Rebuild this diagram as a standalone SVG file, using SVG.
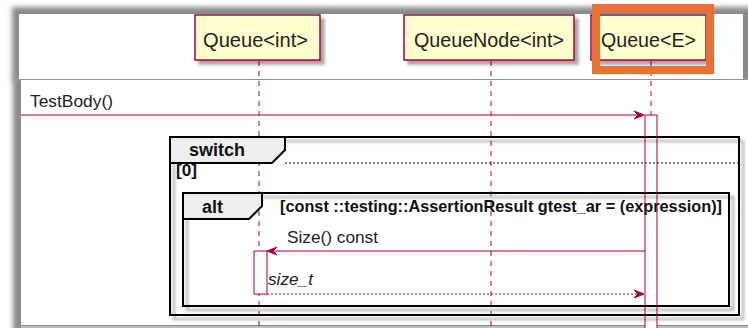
<svg xmlns="http://www.w3.org/2000/svg" width="748" height="328" viewBox="0 0 748 328">
<defs>
  <filter id="blur" x="-5%" y="-20%" width="110%" height="140%"><feGaussianBlur stdDeviation="2.5"/></filter>
  <filter id="sh" x="-10%" y="-10%" width="130%" height="130%"><feDropShadow dx="4" dy="4" stdDeviation="1.8" flood-color="#000" flood-opacity="0.35"/></filter>
  <style>
    .pbox{fill:#FEFECE;stroke:#A80036;stroke-width:1.5}
    .ptxt{font-family:"Liberation Sans",Arial,sans-serif;font-size:19.5px;fill:#222}
    .life{stroke:#A80036;stroke-width:1;stroke-dasharray:5,5;fill:none}
    .act{fill:#fff;stroke:none}
    .acto{fill:none;stroke:#A80036;stroke-width:1}
    .msg{stroke:#A80036;stroke-width:1;fill:none}
    .ret{stroke:#A80036;stroke-width:1;fill:none;stroke-dasharray:2,2}
    .head{fill:#A80036;stroke:#A80036;stroke-width:1}
    .mtxt{font-family:"Liberation Sans",Arial,sans-serif;font-size:17px;fill:#222}
    .frame{fill:none;stroke:#000;stroke-width:2}
    .tab{fill:#EEEEEE;stroke:#000;stroke-width:2}
    .btxt{font-family:"Liberation Sans",Arial,sans-serif;font-weight:bold;fill:#111}
    .sep{stroke:#000;stroke-width:1;stroke-dasharray:2,2}
  </style>
</defs>
<rect width="748" height="328" fill="#fff"/>
<!-- screenshot window shadows -->
<rect x="13" y="78" width="745" height="255" fill="#8a8a8a" filter="url(#blur)"/>
<rect x="12" y="7" width="745" height="74" fill="#8a8a8a" filter="url(#blur)"/>
<rect x="19" y="14" width="724" height="65" fill="#fff"/>
<rect x="21" y="80" width="727" height="245" fill="#fff"/>
<rect x="21" y="326" width="727" height="2" fill="#bdbdbd"/>

<g id="lifelines">
  <line class="life" x1="259" y1="61" x2="259" y2="328"/>
  <line class="life" x1="491" y1="61" x2="491" y2="328"/>
  <line class="life" x1="651" y1="61" x2="651" y2="328"/>
</g>
<g id="activations-fill">
  <rect class="act" x="645" y="115" width="12" height="220"/>
  <rect class="act" x="254" y="251" width="13" height="43"/>
</g>

<g id="switch">
  <rect class="frame" x="170" y="137" width="569" height="178" filter="url(#sh)"/>
  <polygon class="tab" points="170,137 285,137 285,150 272,163 170,163"/>
  <line class="sep" x1="285" y1="163" x2="739" y2="163"/>
  <text class="btxt" x="189" y="156" font-size="18" textLength="56" lengthAdjust="spacingAndGlyphs">switch</text>
  <text class="btxt" x="176" y="176" font-size="16" textLength="21" lengthAdjust="spacingAndGlyphs">[0]</text>
</g>
<g id="alt">
  <rect class="frame" x="183" y="193" width="546" height="113" filter="url(#sh)"/>
  <polygon class="tab" points="183,193 262,193 262,206 249,219 183,219"/>
  <text class="btxt" x="202" y="213" font-size="18" textLength="21" lengthAdjust="spacingAndGlyphs">alt</text>
  <text class="btxt" x="280" y="212" font-size="16.3" textLength="442" lengthAdjust="spacingAndGlyphs">[const ::testing::AssertionResult gtest_ar = (expression)]</text>
</g>

<g id="p-queue-int">
  <rect class="pbox" x="195" y="15" width="125" height="45" filter="url(#sh)"/>
  <text class="ptxt" x="203" y="47" textLength="105" lengthAdjust="spacingAndGlyphs">Queue&lt;int&gt;</text>
</g>
<g id="p-queuenode-int">
  <rect class="pbox" x="404" y="15" width="170" height="45" filter="url(#sh)"/>
  <text class="ptxt" x="414" y="47" textLength="150" lengthAdjust="spacingAndGlyphs">QueueNode&lt;int&gt;</text>
</g>
<g id="p-queue-e">
  <rect class="pbox" x="591" y="15" width="115" height="45" filter="url(#sh)"/>
  <text class="ptxt" x="601" y="47" textLength="95" lengthAdjust="spacingAndGlyphs">Queue&lt;E&gt;</text>
</g>

<g id="activations">
  <rect class="acto" x="645" y="115" width="12" height="220"/>
  <rect class="acto" x="254" y="251" width="13" height="43"/>
</g>

<g id="connectors">
  <line class="msg" x1="21" y1="115" x2="642" y2="115"/>
  <polygon class="head" points="634,111 644,115 634,119 638,115"/>
  <text class="mtxt" x="30" y="107" textLength="83" lengthAdjust="spacingAndGlyphs">TestBody()</text>

  <line class="msg" x1="645" y1="251" x2="269" y2="251"/>
  <polygon class="head" points="277,247 267,251 277,255 273,251"/>
  <text class="mtxt" x="287" y="243" textLength="91" lengthAdjust="spacingAndGlyphs">Size() const</text>

  <line class="ret" x1="267" y1="294" x2="642" y2="294"/>
  <polygon class="head" points="634,290 644,294 634,298 638,294"/>
  <text class="mtxt" x="268" y="285" font-style="italic" textLength="45" lengthAdjust="spacingAndGlyphs">size_t</text>
</g>

<g id="highlight">
  <rect x="596" y="8" width="114" height="62" fill="none" stroke="#E97132" stroke-width="8"/>
</g>
</svg>
